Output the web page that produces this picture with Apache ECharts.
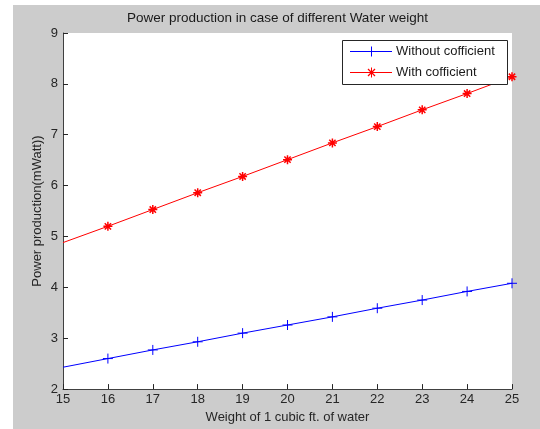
<!DOCTYPE html>
<html><head><meta charset="utf-8">
<script src="https://cdn.jsdelivr.net/npm/echarts@6/dist/echarts.min.js"></script>
<style>
html,body{margin:0;padding:0;background:#fff;width:540px;height:429px;overflow:hidden;}
#wrap{position:absolute;left:13px;top:5px;width:527px;height:424px;background:#cccccc;}
#chart{width:527px;height:424px;}
</style></head>
<body><div id="wrap"><div id="chart"></div></div>
<script>
const titleText = "Power production in case of different Water weight";
const xName = "Weight of 1 cubic ft. of water";
const yName = "Power production(mWatt))";
const weights = [15, 16, 17, 18, 19, 20, 21, 22, 23, 24, 25];
const withoutCoef = [2.43, 2.60, 2.77, 2.93, 3.10, 3.26, 3.42, 3.59, 3.75, 3.92, 4.08];
const withCoef = [4.88, 5.20, 5.53, 5.86, 6.18, 6.51, 6.84, 7.16, 7.49, 7.81, 8.14];
const seriesNames = ["Without cofficient", "With cofficient"];
const seriesColors = ['#0000ff', '#ff0000'];

const plusPath = 'path://M5,0L5,10M0,5L10,5';
const starPath = 'path://M5,0L5,10M0,5L10,5M1.5,1.5L8.5,8.5M8.5,1.5L1.5,8.5';

function build(vals){
  return weights.map((w,i)=> i===0 ? {value:[w, vals[i]], symbol:'none'} : {value:[w, vals[i]]});
}
const font = 'Liberation Sans, Arial, sans-serif';
const fs = 13;

// legend drawn as graphic elements
function seg(x1,y1,x2,y2,c,w){return {type:'line', shape:{x1,y1,x2,y2}, style:{stroke:c, lineWidth:w||1}, silent:true, z:100};}
function legendRow(i, cy, star){
  const c = seriesColors[i], mx = 358.5;
  const els = [seg(337, cy, 379, cy, c, 1),
               seg(mx, cy-5, mx, cy+5, c, 1), seg(mx-5, cy, mx+5, cy, c, 1)];
  if(star){ els.push(seg(mx-3.5, cy-3.5, mx+3.5, cy+3.5, c, 1.3), seg(mx+3.5, cy-3.5, mx-3.5, cy+3.5, c, 1.3)); }
  els.push({type:'text', x:383, y:cy, z:100, style:{text:seriesNames[i], font:fs+'px '+font, fill:'#1a1a1a', textVerticalAlign:'middle'}, silent:true});
  return els;
}
const legendEls = [{type:'rect', z:99, shape:{x:329.5, y:35.5, width:165, height:44}, style:{fill:'#fff', stroke:'#262626', lineWidth:1}, silent:true}]
  .concat(legendRow(0, 46.5, false)).concat(legendRow(1, 67.5, true));

const chart = echarts.init(document.getElementById('chart'), null, {renderer:'canvas'});
chart.setOption({
  animation:false,
  backgroundColor:'#cccccc',
  color: seriesColors,
  textStyle:{fontFamily:font},
  grid:{left:50, top:28, right:28, bottom:37, show:true, backgroundColor:'#ffffff', borderWidth:0},
  graphic:[
    {type:'text', left:274-160, top:6, style:{text:titleText, x:160, textAlign:'center', font:'13.5px '+font, fill:'#1a1a1a'}}
  ].concat(legendEls),
  xAxis:{
    type:'value', min:15, max:25, interval:1,
    name:xName, nameLocation:'middle', nameGap:21,
    nameTextStyle:{fontSize:fs, color:'#262626', fontFamily:font},
    axisLine:{lineStyle:{color:'#404040', width:1}},
    axisTick:{inside:true, length:5, lineStyle:{color:'#262626'}},
    axisLabel:{margin:4, fontSize:fs, color:'#262626', fontFamily:font},
    splitLine:{show:false}
  },
  yAxis:{
    type:'value', min:2, max:9, interval:1,
    name:yName, nameLocation:'middle', nameGap:19, nameMoveOverlap:false,
    nameTextStyle:{fontSize:fs, color:'#262626', fontFamily:font},
    axisLine:{show:true, lineStyle:{color:'#404040', width:1}},
    axisTick:{show:true, inside:true, length:5, lineStyle:{color:'#262626'}},
    axisLabel:{margin:5, fontSize:fs, color:'#262626', fontFamily:font},
    splitLine:{show:false}
  },
  series:[
    {name:seriesNames[0], type:'line', data:build(withoutCoef), symbol:plusPath, symbolSize:10,
     showAllSymbol:true, lineStyle:{color:seriesColors[0], width:1},
     itemStyle:{color:seriesColors[0], borderColor:seriesColors[0], borderWidth:1}},
    {name:seriesNames[1], type:'line', data:build(withCoef), symbol:starPath, symbolSize:9,
     showAllSymbol:true, lineStyle:{color:seriesColors[1], width:1},
     itemStyle:{color:seriesColors[1], borderColor:seriesColors[1], borderWidth:1.5}}
  ]
});
</script></body></html>
